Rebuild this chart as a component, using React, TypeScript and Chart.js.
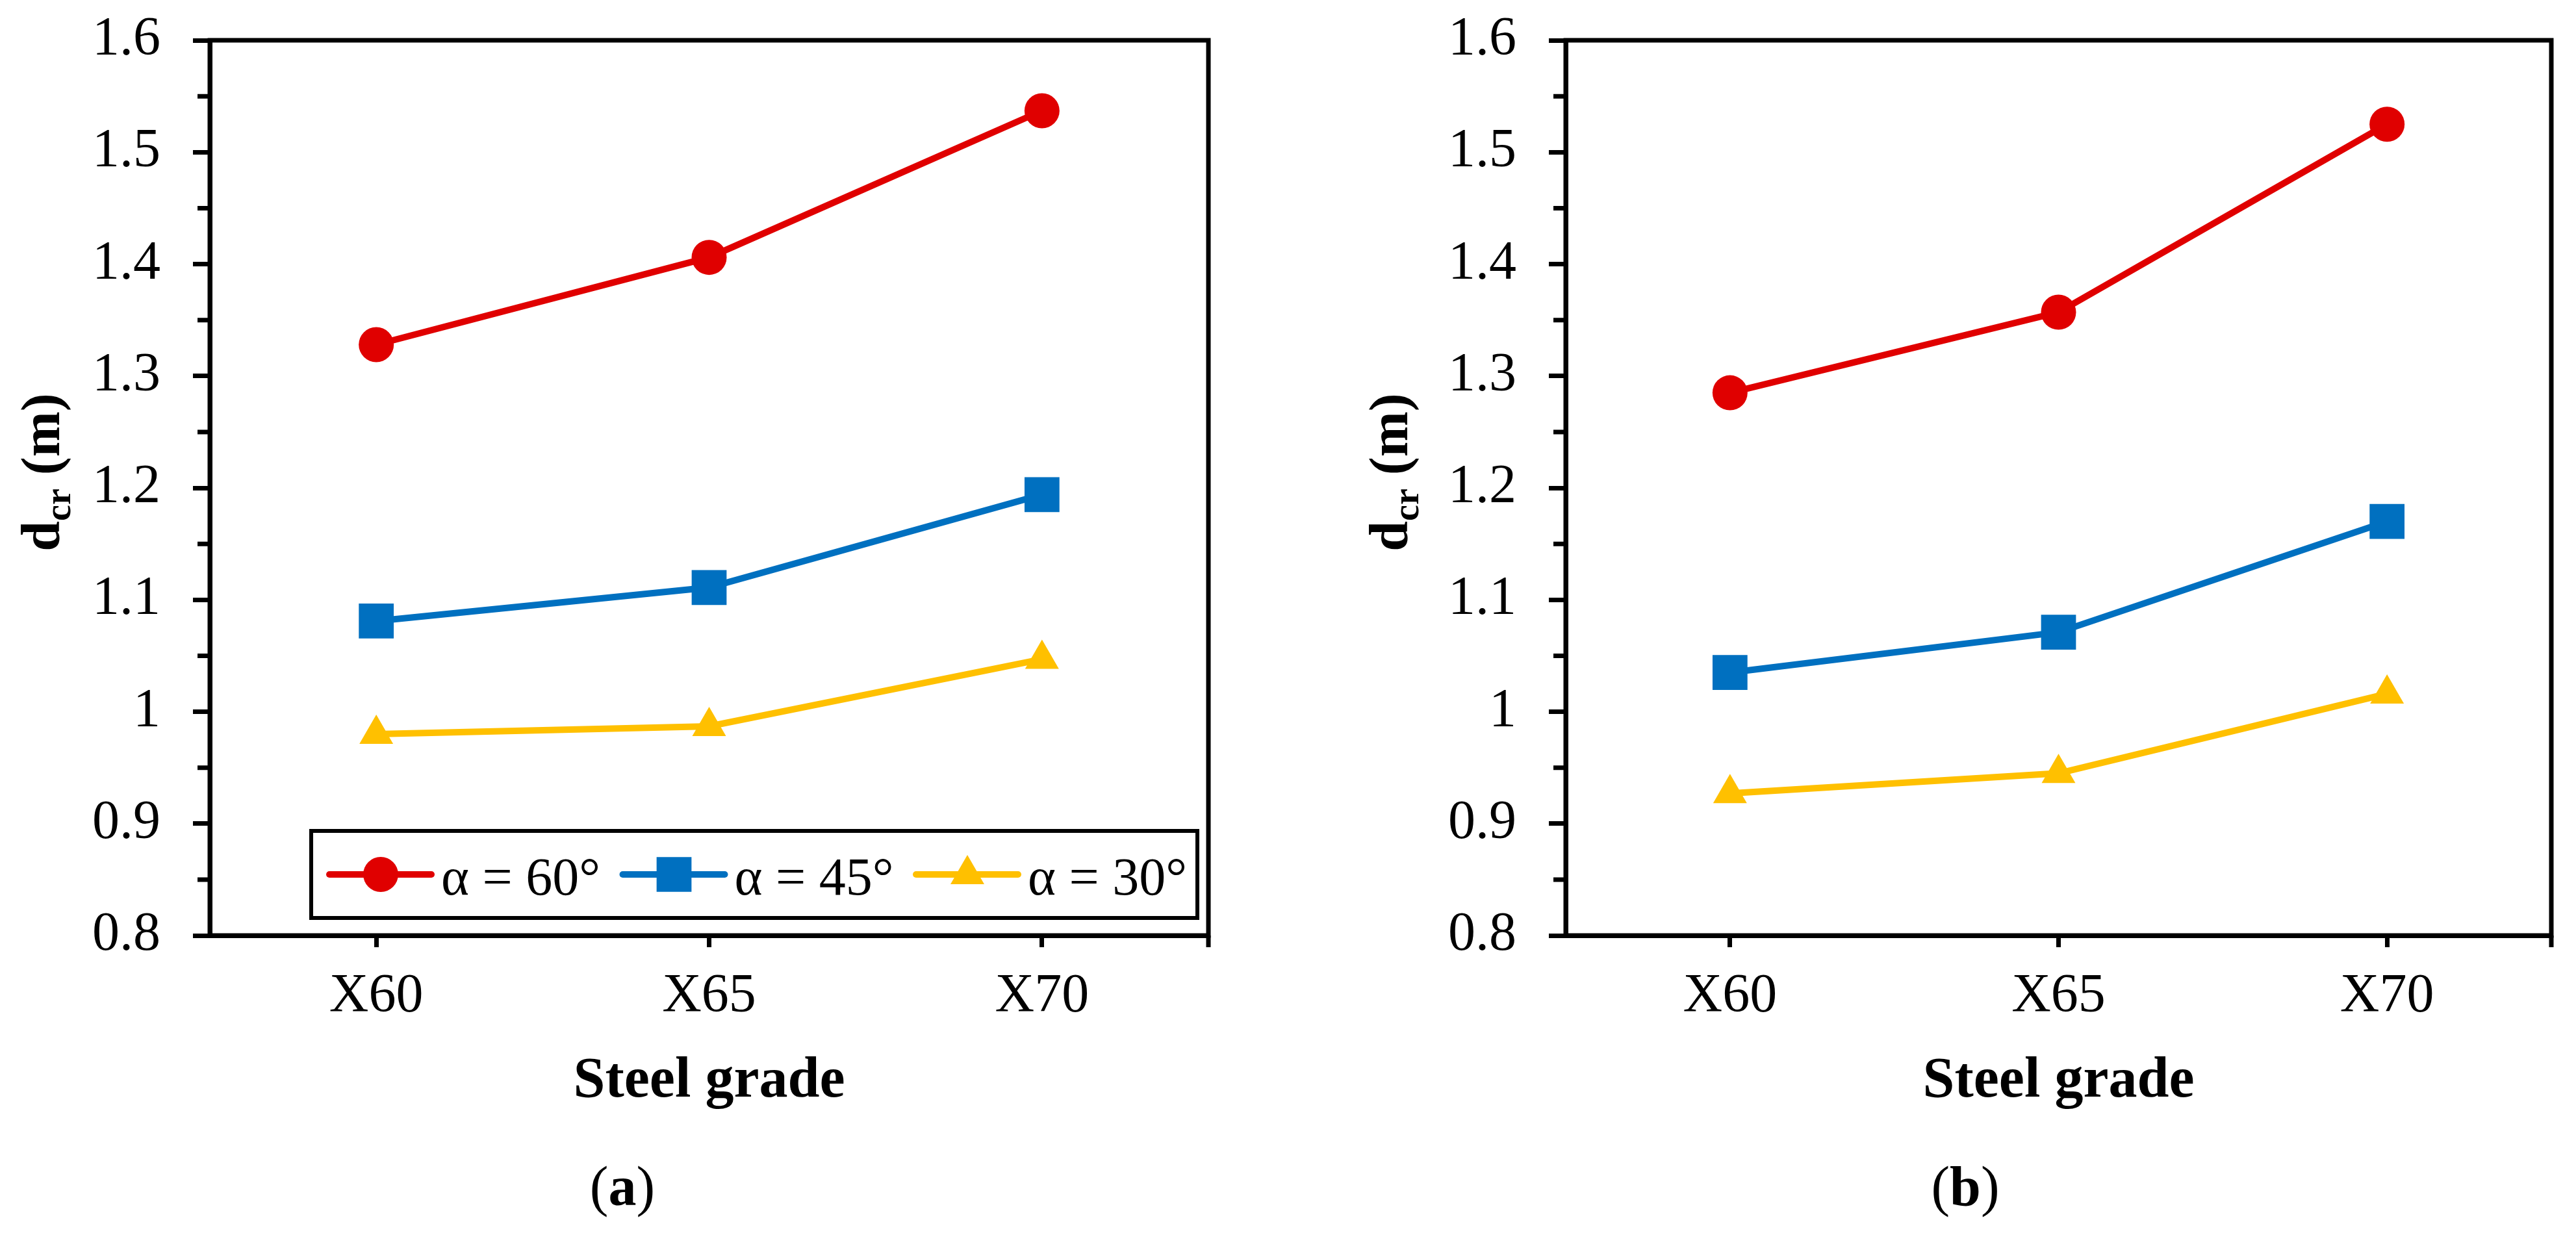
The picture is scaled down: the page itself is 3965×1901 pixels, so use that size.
import { useEffect, useRef } from "react";
import { Chart, Plugin, registerables } from "chart.js";
import { drawPoint } from "chart.js/helpers";

Chart.register(...registerables);

// steel grades on the x axis
const grades = ["X60", "X65", "X70"];

// critical distance d_cr (m), panel (a)
const a60 = [1.328, 1.406, 1.537];
const a45 = [1.081, 1.111, 1.194];
const a30 = [0.98, 0.987, 1.047];

// panel (b)
const b60 = [1.285, 1.357, 1.525];
const b45 = [1.035, 1.071, 1.17];
const b30 = [0.927, 0.945, 1.016];

const seriesNames = ["α = 60°", "α = 45°", "α = 30°"];
const seriesColors = ["#E00000", "#0070C0", "#FFC000"];
const seriesMarkers = ["circle", "rect", "triangle"] as const;
const markerRadius = [27, 38, 30];

const yMin = 0.8;
const yMax = 1.6;
const yStep = 0.1;

const SERIF = '"Liberation Serif", "Times New Roman", serif';
const FULL_H = 1901;

// black box round the plot area, right-end x tick and the short minor y ticks
const framePlugin: Plugin<"line"> = {
  id: "frame",
  afterDraw(chart) {
    const { ctx, chartArea: a } = chart;
    ctx.save();
    ctx.strokeStyle = "#000";
    ctx.lineWidth = 7;
    ctx.strokeRect(a.left, a.top, a.right - a.left, a.bottom - a.top);
    ctx.beginPath();
    ctx.moveTo(a.right, a.bottom);
    ctx.lineTo(a.right, a.bottom + 18);
    const y = chart.scales.y;
    for (let i = 0; i < y.ticks.length - 1; i++) {
      const v = (y.ticks[i].value + y.ticks[i + 1].value) / 2;
      const py = y.getPixelForValue(v);
      ctx.moveTo(a.left - 19, py);
      ctx.lineTo(a.left, py);
    }
    ctx.stroke();
    ctx.restore();
  },
};

// "d" with subscript "cr", rotated
function yTitlePlugin(baseX: number, midY: number): Plugin<"line"> {
  return {
    id: "yTitle",
    afterDraw(chart) {
      const ctx = chart.ctx;
      const big = `bold 84px ${SERIF}`;
      const small = `bold 56px ${SERIF}`;
      ctx.save();
      ctx.font = big;
      const wD = ctx.measureText("d").width;
      const wM = ctx.measureText(" (m)").width;
      ctx.font = small;
      const wS = ctx.measureText("cr").width;
      const total = wD + wS + wM;
      ctx.translate(baseX, midY);
      ctx.rotate(-Math.PI / 2);
      ctx.fillStyle = "#000";
      ctx.textBaseline = "alphabetic";
      ctx.textAlign = "left";
      let x = -total / 2;
      ctx.font = big;
      ctx.fillText("d", x, 0);
      x += wD;
      ctx.font = small;
      ctx.fillText("cr", x, 17);
      x += wS;
      ctx.font = big;
      ctx.fillText(" (m)", x, 0);
      ctx.restore();
    },
  };
}

// legend in a box inside the plot, line + marker + label
const legendPlugin: Plugin<"line"> = {
  id: "boxLegend",
  afterDatasetsDraw(chart) {
    const { ctx, chartArea: a } = chart;
    const x1 = a.left + 156;
    const x2 = a.right - 17;
    const y1 = a.bottom - 161;
    const y2 = a.bottom - 27;
    ctx.save();
    ctx.fillStyle = "#fff";
    ctx.fillRect(x1, y1, x2 - x1, y2 - y1);
    ctx.strokeStyle = "#000";
    ctx.lineWidth = 6;
    ctx.strokeRect(x1, y1, x2 - x1, y2 - y1);
    const midY = a.bottom - 94;
    chart.data.datasets.forEach((ds, i) => {
      const x0 = a.left + 184 + i * 451.5;
      ctx.strokeStyle = seriesColors[i];
      ctx.lineWidth = 10;
      ctx.lineCap = "round";
      ctx.beginPath();
      ctx.moveTo(x0, midY);
      ctx.lineTo(x0 + 157, midY);
      ctx.stroke();
      ctx.fillStyle = seriesColors[i];
      drawPoint(ctx, { pointStyle: seriesMarkers[i], radius: markerRadius[i], borderWidth: 0, rotation: 0 } as any, x0 + 79, midY);
      ctx.fillStyle = "#000";
      ctx.font = `82px ${SERIF}`;
      ctx.textBaseline = "alphabetic";
      ctx.textAlign = "left";
      ctx.fillText(String(ds.label), x0 + 172, a.bottom - 63);
    });
    ctx.restore();
  },
};

interface PanelProps {
  values: number[][];
  left: number;
  width: number;
  plotLeft: number;
  plotRight: number;
  titleX: number;
  showLegend: boolean;
}

function Panel({ values, left, width, plotLeft, plotRight, titleX, showLegend }: PanelProps) {
  const canvasRef = useRef<HTMLCanvasElement>(null);

  useEffect(() => {
    if (!canvasRef.current) return;
    const tickFont = { family: SERIF, size: 84 };
    const plugins: Plugin<"line">[] = [framePlugin, yTitlePlugin(titleX, 727)];
    if (showLegend) plugins.push(legendPlugin);

    const chart = new Chart(canvasRef.current, {
      type: "line",
      data: {
        labels: grades,
        datasets: values.map((v, i) => ({
          label: seriesNames[i],
          data: v,
          borderColor: seriesColors[i],
          backgroundColor: seriesColors[i],
          borderWidth: 10,
          pointStyle: seriesMarkers[i],
          pointRadius: markerRadius[i],
          pointHoverRadius: markerRadius[i],
          pointBackgroundColor: seriesColors[i],
          pointBorderWidth: 0,
          tension: 0,
        })),
      },
      options: {
        animation: false,
        responsive: false,
        devicePixelRatio: 1,
        layout: { padding: { top: 62, right: width - plotRight, left: 0, bottom: 0 } },
        plugins: {
          legend: { display: false },
          tooltip: { enabled: false },
        },
        scales: {
          x: {
            type: "category",
            offset: true,
            grid: { drawOnChartArea: false, offset: false, tickLength: 18, tickWidth: 7, tickColor: "#000" },
            border: { display: true, color: "#000", width: 7 },
            ticks: { color: "#000", font: tickFont, padding: 27, maxRotation: 0 },
            title: {
              display: true,
              text: "Steel grade",
              color: "#000",
              font: { family: SERIF, size: 88, weight: "bold" },
              padding: { top: 0, bottom: 183 },
            },
            afterFit: (s) => {
              s.height = FULL_H - 1440;
              s.paddingLeft = 0;
              s.paddingRight = 0;
            },
          },
          y: {
            min: yMin,
            max: yMax,
            grid: { drawOnChartArea: false, tickLength: 26, tickWidth: 7, tickColor: "#000" },
            border: { display: true, color: "#000", width: 7 },
            ticks: {
              stepSize: yStep,
              color: "#000",
              font: tickFont,
              padding: 50,
              callback: (v) => String(Math.round(Number(v) * 10) / 10),
            },
            afterFit: (s) => {
              s.width = plotLeft;
              s.paddingTop = 0;
              s.paddingBottom = 0;
            },
          },
        },
      },
      plugins,
    });

    return () => {
      chart.destroy();
    };
  }, [values, width, plotLeft, plotRight, titleX, showLegend]);

  return (
    <div style={{ position: "absolute", left, top: 0, width, height: FULL_H }}>
      <canvas ref={canvasRef} width={width} height={FULL_H} style={{ display: "block", width, height: FULL_H }} />
    </div>
  );
}

function Caption({ letter, x }: { letter: string; x: number }) {
  return (
    <div
      style={{
        position: "absolute",
        left: x - 200,
        width: 400,
        top: 1776,
        lineHeight: "100px",
        fontSize: 86,
        fontFamily: SERIF,
        textAlign: "center",
        color: "#000",
      }}
    >
      (<b>{letter}</b>)
    </div>
  );
}

const panelA = [a60, a45, a30];
const panelB = [b60, b45, b30];

export default function App() {
  return (
    <div style={{ position: "absolute", left: 0, top: 0, width: 3965, height: FULL_H, background: "#fff", overflow: "hidden" }}>
      <Panel values={panelA} left={0} width={1982} plotLeft={323} plotRight={1860} titleX={91} showLegend />
      <Panel values={panelB} left={1982} width={1983} plotLeft={428} plotRight={1953} titleX={184} showLegend={false} />
      <Caption letter="a" x={958} />
      <Caption letter="b" x={3025} />
    </div>
  );
}
